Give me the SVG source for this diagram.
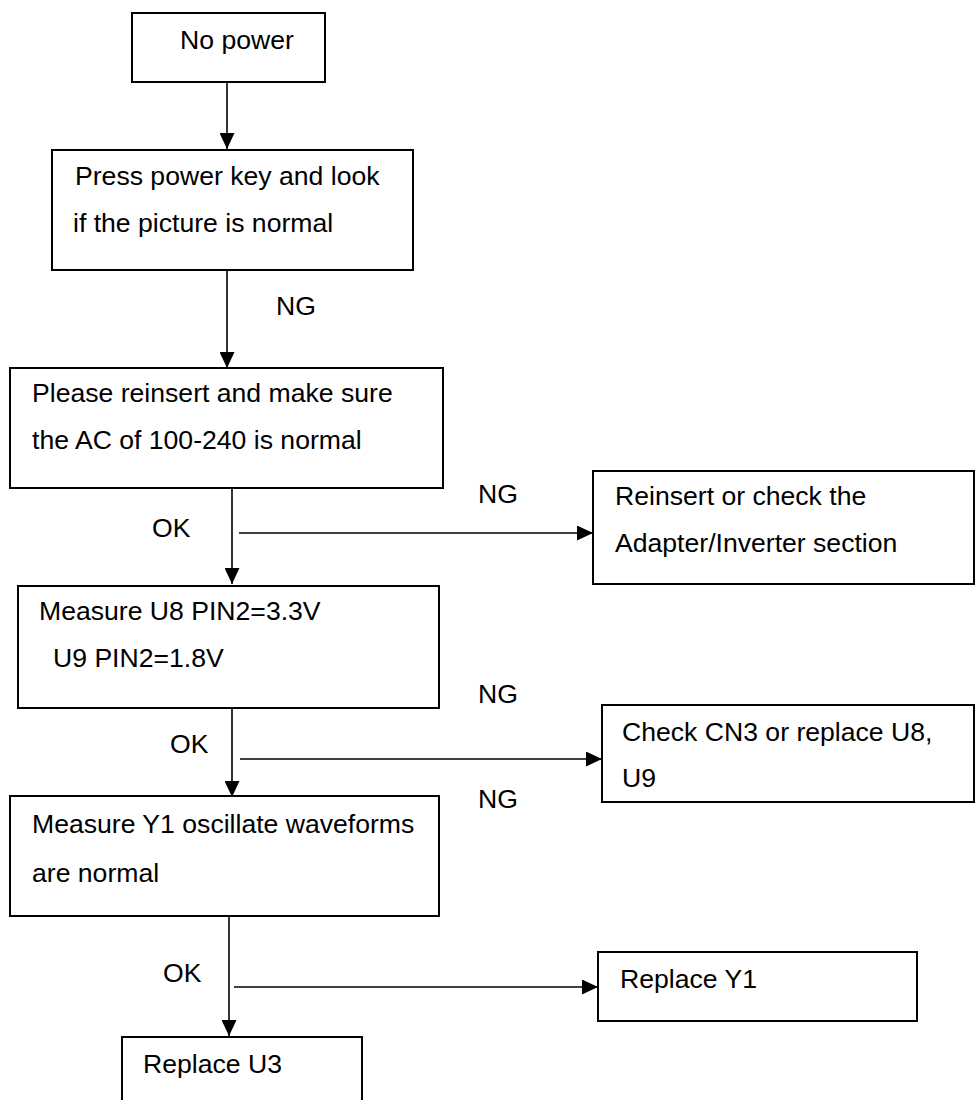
<svg xmlns="http://www.w3.org/2000/svg" width="975" height="1100" viewBox="0 0 975 1100">
<style>
.box{fill:#fff;stroke:#000;stroke-width:2}
.t{font-family:"Liberation Sans",Arial,sans-serif;font-size:26.6px;fill:#000}
.ln{stroke:#000;stroke-width:1.6;fill:none}
</style>
<defs>
<marker id="ah" markerUnits="userSpaceOnUse" markerWidth="16" markerHeight="15" refX="16" refY="7.5" orient="auto">
<path d="M0,0 L16,7.5 L0,15 Z" fill="#000"/>
</marker>
</defs>
<rect width="975" height="1100" fill="#fff"/>
<g id="connectors">
<line class="ln" x1="227" y1="82" x2="227" y2="149" marker-end="url(#ah)"/>
<line class="ln" x1="227" y1="270" x2="227" y2="368" marker-end="url(#ah)"/>
<line class="ln" x1="232" y1="488" x2="232" y2="584" marker-end="url(#ah)"/>
<line class="ln" x1="239" y1="533" x2="593" y2="533" marker-end="url(#ah)"/>
<line class="ln" x1="232" y1="708" x2="232" y2="797" marker-end="url(#ah)"/>
<line class="ln" x1="240" y1="759" x2="602" y2="759" marker-end="url(#ah)"/>
<line class="ln" x1="229" y1="916" x2="229" y2="1036" marker-end="url(#ah)"/>
<line class="ln" x1="234" y1="987" x2="598" y2="987" marker-end="url(#ah)"/>
<text class="t" x="276" y="315">NG</text>
<text class="t" x="152" y="537">OK</text>
<text class="t" x="478" y="503">NG</text>
<text class="t" x="170" y="753">OK</text>
<text class="t" x="478" y="703">NG</text>
<text class="t" x="163" y="982">OK</text>
<text class="t" x="478" y="808">NG</text>
</g>
<g id="n1"><rect class="box" x="132" y="13" width="193" height="69"/><text class="t" x="180" y="49">No power</text></g>
<g id="n2"><rect class="box" x="52" y="150" width="361" height="120"/><text class="t" x="75" y="185">Press power key and look</text><text class="t" x="73" y="232">if the picture is normal</text></g>
<g id="n3"><rect class="box" x="10" y="368" width="433" height="120"/><text class="t" x="32" y="402">Please reinsert and make sure</text><text class="t" x="32" y="449">the AC of 100-240 is normal</text></g>
<g id="n4"><rect class="box" x="593" y="471" width="381" height="113"/><text class="t" x="615" y="505">Reinsert or check the</text><text class="t" x="615" y="552">Adapter/Inverter section</text></g>
<g id="n5"><rect class="box" x="18" y="586" width="421" height="122"/><text class="t" x="39" y="620">Measure U8 PIN2=3.3V</text><text class="t" x="53" y="667">U9 PIN2=1.8V</text></g>
<g id="n6"><rect class="box" x="602" y="705" width="372" height="97"/><text class="t" x="622" y="741">Check CN3 or replace U8,</text><text class="t" x="622" y="787">U9</text></g>
<g id="n7"><rect class="box" x="10" y="796" width="429" height="120"/><text class="t" x="32" y="833">Measure Y1 oscillate waveforms</text><text class="t" x="32" y="882">are normal</text></g>
<g id="n8"><rect class="box" x="598" y="952" width="319" height="69"/><text class="t" x="620" y="988">Replace Y1</text></g>
<g id="n9"><rect class="box" x="122" y="1037" width="240" height="80"/><text class="t" x="143" y="1073">Replace U3</text></g>
</svg>
